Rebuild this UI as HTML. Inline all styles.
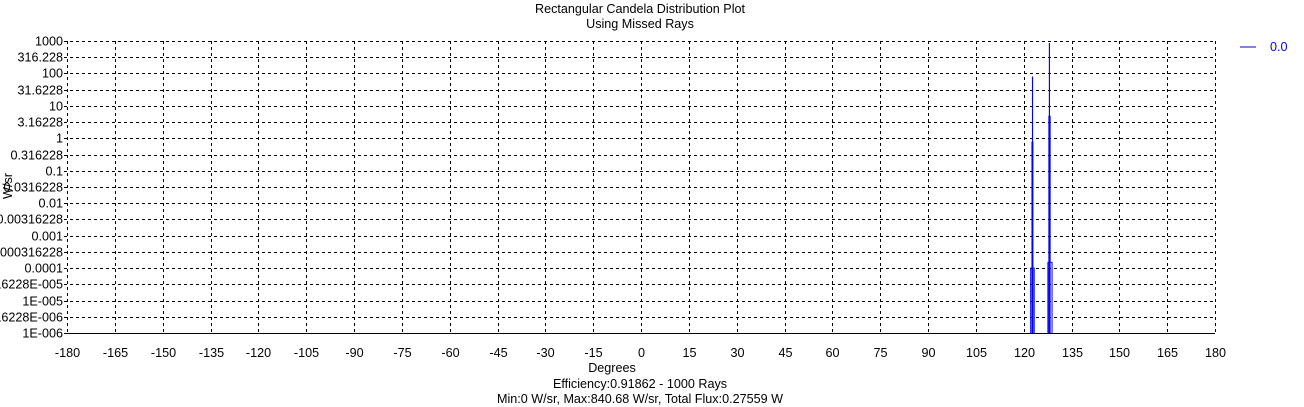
<!DOCTYPE html>
<html><head><meta charset="utf-8"><style>
body{margin:0;background:#fff;width:1304px;height:407px;overflow:hidden}
svg{display:block;font-family:"Liberation Sans",Arial,sans-serif;font-size:12.6px}
</style></head><body>
<svg id="c" width="1304" height="407">
<text x="640" y="13" text-anchor="middle">Rectangular Candela Distribution Plot</text>
<text x="640" y="28" text-anchor="middle">Using Missed Rays</text>
<text x="612" y="372" text-anchor="middle">Degrees</text>
<text x="640" y="388" text-anchor="middle">Efficiency:0.91862 - 1000 Rays</text>
<text x="640" y="403" text-anchor="middle">Min:0 W/sr, Max:840.68 W/sr, Total Flux:0.27559 W</text>
<text transform="translate(12,186) rotate(-90)" text-anchor="middle">W/sr</text>
<line x1="1240" y1="47" x2="1256" y2="47" stroke="#0000ff"/>
<text x="1270" y="51" fill="#0000ff">0.0</text>
<g id="grid"></g><g id="marks"></g>
</svg>
<script>
const xTicks=[-180,-165,-150,-135,-120,-105,-90,-75,-60,-45,-30,-15,0,15,30,45,60,75,90,105,120,135,150,165,180];
const yTickLabels=["1000","316.228","100","31.6228","10","3.16228","1","0.316228","0.1","0.0316228","0.01","0.00316228","0.001","0.000316228","0.0001","3.16228E-005","1E-005","3.16228E-006","1E-006"];
const binStart=[122.2,122.6,122.75,127.6,127.9,128.05];
const binEnd=[123.3,122.9,122.8,128.9,128.3,128.1];
const binValue=[0.0001,0.76,78,0.00015,4.8,840.68];
const L=67,R=1215,T=41,B=333,NS="http://www.w3.org/2000/svg";
const xs=d=>L+(d+180)/360*(R-L);
const ys=v=>T+(3-Math.log10(v))/9*(B-T);
const g=document.getElementById('grid'),m=document.getElementById('marks');
function mk(tag,at,p){const e=document.createElementNS(NS,tag);for(const k in at)e.setAttribute(k,at[k]);p.appendChild(e);return e;}
xTicks.forEach((t,i)=>{
 const x=Math.round(xs(t))+0.5;
 const l=mk('line',{x1:x,y1:T,x2:x,y2:B,stroke:'#000','stroke-dasharray':'3,3'},g);
 
 
 const tx=mk('text',{x:x,y:357,'text-anchor':'middle'},g);tx.textContent=t;
 
 
});
yTickLabels.forEach((s,i)=>{
 const y=Math.round(ys(Math.pow(10,3-i/2)))+0.5;
 const l=mk('line',{x1:L-3,y1:y,x2:R,y2:y,stroke:'#000','stroke-dasharray':i==18?'none':'3,3'},g);
 
 
 const tx=mk('text',{x:L-4,y:y+4,'text-anchor':'end'},g);tx.textContent=s;
 
 
});
binValue.forEach((v,i)=>{
 const x1=xs(binStart[i]),x2=xs(binEnd[i]),y=ys(v);
 const p=mk('polyline',{points:`${x1},${B} ${x1},${y} ${x2},${y} ${x2},${B}`,fill:'none',stroke:'#0000ff','stroke-width':1},m);
 
 
});
</script>
</body></html>
